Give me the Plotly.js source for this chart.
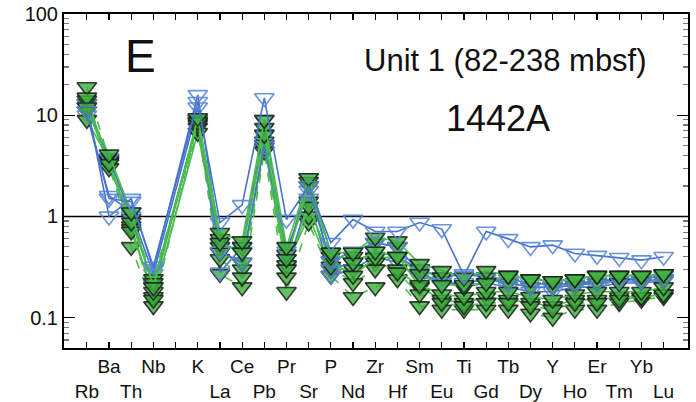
<!DOCTYPE html>
<html>
<head>
<meta charset="utf-8">
<script src="https://cdn.plot.ly/plotly-3.0.1.min.js"></script>
<style>
  body { margin: 0; background: #fff; }
  #chart { width: 696px; height: 402px; }
</style>
</head>
<body>
<div id="chart"></div>
<script>
// element order on the x axis (slot 4 is left empty)
var elements = ['Rb','Ba','Th','Nb','','K','La','Ce','Pb','Pr','Sr','P','Nd','Zr','Hf','Sm','Eu','Ti','Gd','Tb','Dy','Y','Ho','Er','Tm','Yb','Lu'];

// blue samples (open symbols)
var blue1 = [11, 1.5, 1.4, 0.32, null, 13.6, 0.87, 1.3, 14.8, 0.93, 2.0, 0.55, 0.93, 0.71, 0.71, 0.87, 0.75, 0.26, 0.71, 0.6, 0.5, 0.52, 0.43, 0.41, 0.39, 0.37, 0.40];
var blue2 = [13, 1.0, 1.5, 0.30, null, 15.9, 0.55, 0.45, 9, 0.38, 2.4, 0.30, 0.35, 0.45, 0.40, 0.30, 0.25, 0.27, 0.25, 0.24, 0.22, 0.21, 0.22, 0.23, 0.24, 0.24, 0.26];
var blue3 = [10, 1.6, 1.1, 0.27, null, 12, 0.28, 0.50, 6.5, 0.30, 1.5, 0.26, 0.30, 0.40, 0.35, 0.25, 0.23, 0.20, 0.22, 0.20, 0.18, 0.18, 0.20, 0.20, 0.22, 0.22, 0.23];
var blue4 = [12, 3.8, 1.0, 0.20, null, 9, 0.45, 0.35, 5, 0.45, 1.8, 0.36, 0.45, 0.55, 0.50, 0.28, 0.22, 0.22, 0.24, 0.22, 0.20, 0.20, 0.21, 0.22, 0.23, 0.23, 0.24];

// green samples (filled symbols)
var green1 = [19, 3.7, 0.5, 0.13, null, 8.4, 0.27, 0.20, 4.4, 0.18, 0.87, 0.26, 0.16, 0.20, 0.24, 0.13, 0.12, 0.12, 0.12, 0.12, 0.11, 0.10, 0.12, 0.12, 0.14, 0.15, 0.16];
var green2 = [14, 3.5, 0.71, 0.18, null, 9, 0.44, 0.35, 5.1, 0.30, 1.25, 0.36, 0.26, 0.39, 0.40, 0.21, 0.17, 0.16, 0.18, 0.18, 0.16, 0.15, 0.17, 0.18, 0.18, 0.18, 0.20];
var green3 = [12, 3.3, 0.87, 0.22, null, 8.6, 0.55, 0.44, 6.4, 0.38, 2.0, 0.44, 0.35, 0.45, 0.40, 0.27, 0.21, 0.21, 0.22, 0.26, 0.24, 0.23, 0.24, 0.26, 0.26, 0.26, 0.27];
var green4 = [11, 4.1, 1.1, 0.20, null, 9.4, 0.69, 0.57, 9, 0.50, 2.4, 0.44, 0.44, 0.62, 0.57, 0.34, 0.29, 0.25, 0.29, 0.26, 0.24, 0.23, 0.24, 0.26, 0.26, 0.26, 0.27];
var green5 = [9, 3.6, 0.8, 0.16, null, 6.7, 0.50, 0.30, 5.5, 0.33, 1.0, 0.30, 0.30, 0.35, 0.30, 0.20, 0.15, 0.14, 0.16, 0.15, 0.14, 0.13, 0.15, 0.15, 0.16, 0.16, 0.17];
var green6 = [15, 3.4, 0.95, 0.24, null, 8, 0.60, 0.50, 7.5, 0.42, 2.2, 0.40, 0.40, 0.55, 0.50, 0.30, 0.25, 0.20, 0.25, 0.22, 0.20, 0.20, 0.21, 0.22, 0.22, 0.23, 0.24];
var green7 = [13, 3.0, 0.75, 0.15, null, 7.5, 0.38, 0.25, 4.8, 0.25, 1.4, 0.32, 0.22, 0.30, 0.28, 0.17, 0.14, 0.13, 0.14, 0.14, 0.13, 0.12, 0.14, 0.14, 0.15, 0.16, 0.17];

var xIdx = elements.map(function (e, i) { return i; });
// two rows of labels: odd slots on top, even slots below
var tickLabels = elements.map(function (e, i) { return (i % 2 === 1) ? e : '<br>' + e; });

var blueCol = 'rgb(70, 115, 205)';
var greenLine = 'rgb(75, 190, 75)';

function blueTrace(vals) {
	return {
		x: xIdx, y: vals,
		type: 'scatter', mode: 'lines+markers',
		connectgaps: true,
		line: { color: blueCol, width: 1.6 },
		marker: { symbol: 'triangle-down-open', size: 17, color: 'rgba(90, 135, 215, 0.9)', line: { width: 1.6 } },
		hoverinfo: 'y'
	};
}

function greenTrace(vals, dash) {
	return {
		x: xIdx, y: vals,
		type: 'scatter', mode: 'lines+markers',
		connectgaps: true,
		line: { color: greenLine, width: 1.6, dash: dash },
		marker: { symbol: 'triangle-down', size: 17, color: 'rgba(60, 175, 60, 0.8)', line: { color: 'rgba(25, 30, 25, 0.85)', width: 1.6 } },
		hoverinfo: 'y'
	};
}

var data = [
	greenTrace(green1, 'dash'),
	blueTrace(blue3),
	greenTrace(green5, 'solid'),
	greenTrace(green7, 'dash'),
	blueTrace(blue2),
	greenTrace(green2, 'solid'),
	greenTrace(green6, 'dash'),
	blueTrace(blue4),
	greenTrace(green3, 'solid'),
	greenTrace(green4, 'solid'),
	blueTrace(blue1)
];

var tickFont = { family: 'Liberation Sans, Arial, sans-serif', size: 19, color: '#111' };

var layout = {
	width: 696, height: 402,
	margin: { l: 64, r: 8, t: 14, b: 54 },
	paper_bgcolor: '#fff',
	plot_bgcolor: '#fff',
	showlegend: false,
	xaxis: {
		range: [-1.03, 27.1],
		tickmode: 'array', tickvals: xIdx, ticktext: tickLabels,
		ticks: 'inside', ticklen: 6, tickwidth: 1.2, tickcolor: '#000',
		showline: true, linecolor: '#000', linewidth: 2, mirror: 'allticks',
		showgrid: false, zeroline: false,
		tickfont: tickFont, tickangle: 0
	},
	yaxis: {
		type: 'log',
		range: [-1.3, 2],
		dtick: 1, tick0: 0,
		ticks: 'inside', ticklen: 11, tickwidth: 1.2, tickcolor: '#000',
		minor: { dtick: 'D1', ticks: 'inside', ticklen: 5, tickcolor: '#777', showgrid: false },
		showline: true, linecolor: '#000', linewidth: 2, mirror: 'allticks',
		showgrid: false, zeroline: false,
		tickfont: { family: 'Liberation Sans, Arial, sans-serif', size: 20, color: '#111' }
	},
	shapes: [{
		type: 'line', xref: 'paper', x0: 0, x1: 1, yref: 'y', y0: 1, y1: 1,
		line: { color: '#000', width: 1.5 }, layer: 'below'
	}],
	annotations: [
		{ text: 'E', xref: 'paper', yref: 'paper', x: 0.123, y: 0.873, showarrow: false,
		  xanchor: 'center', yanchor: 'middle', font: { family: 'Liberation Sans, Arial, sans-serif', size: 46, color: '#111' } },
		{ text: 'Unit 1 (82-238 mbsf)', xref: 'paper', yref: 'paper', x: 0.708, y: 0.862, showarrow: false,
		  xanchor: 'center', yanchor: 'middle', font: { family: 'Liberation Sans, Arial, sans-serif', size: 31, color: '#111' } },
		{ text: '1442A', xref: 'paper', yref: 'paper', x: 0.695, y: 0.686, showarrow: false,
		  xanchor: 'center', yanchor: 'middle', font: { family: 'Liberation Sans, Arial, sans-serif', size: 36, color: '#111' } }
	]
};

Plotly.newPlot('chart', data, layout, { displayModeBar: false, staticPlot: true });
</script>
</body>
</html>
